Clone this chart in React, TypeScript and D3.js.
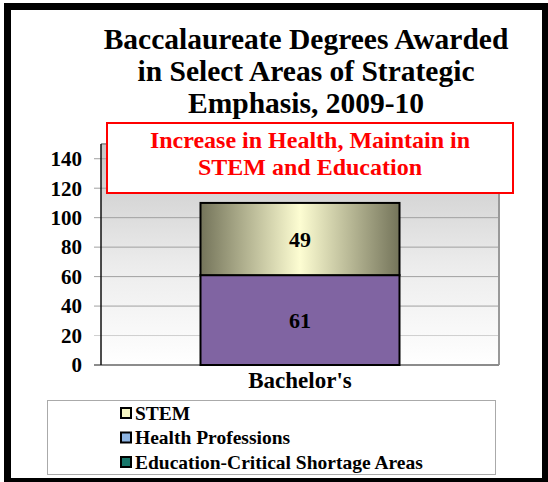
import React, { useEffect, useRef } from 'react';
import * as d3 from 'd3';

const categories = ["Bachelor's"];
const seriesNames = ['Health Professions', 'STEM'];
const healthValues = [61];
const stemValues = [49];
const yTicks = [0, 20, 40, 60, 80, 100, 120, 140];
const titleLines = ['Baccalaureate Degrees Awarded', 'in Select Areas of Strategic', 'Emphasis, 2009-10'];
const noteLines = ['Increase in Health, Maintain in', 'STEM and Education'];
const legendNames = ['STEM', 'Health Professions', 'Education-Critical Shortage Areas'];
const legendColors = ['#f7f7c4', '#8db4e2', '#17766a'];

const W = 548;
const H = 482;
const FONT = '"Liberation Serif", serif';

const App: React.FC = () => {
  const svgRef = useRef<SVGSVGElement>(null);

  useEffect(() => {
    if (!svgRef.current) return;
    const svg = d3.select(svgRef.current);
    svg.selectAll('*').remove();

    const margin = { top: 144, right: 49, bottom: 117, left: 101 };
    const innerW = W - margin.left - margin.right;
    const innerH = H - margin.top - margin.bottom;

    const defs = svg.append('defs');
    const bg = defs.append('linearGradient').attr('id', 'bg').attr('x1', 0).attr('y1', 0).attr('x2', 0).attr('y2', 1);
    bg.append('stop').attr('offset', '0%').attr('stop-color', '#c6c6c6');
    bg.append('stop').attr('offset', '55%').attr('stop-color', '#ececec');
    bg.append('stop').attr('offset', '100%').attr('stop-color', '#ffffff');
    const stem = defs.append('linearGradient').attr('id', 'stem').attr('x1', 0).attr('y1', 0).attr('x2', 1).attr('y2', 0);
    stem.append('stop').attr('offset', '0%').attr('stop-color', '#74745a');
    stem.append('stop').attr('offset', '50%').attr('stop-color', '#fdfdd2');
    stem.append('stop').attr('offset', '100%').attr('stop-color', '#74745a');

    // outer frame
    svg.append('rect')
      .attr('x', 7.5).attr('y', 6.5).attr('width', 538).attr('height', 475)
      .attr('fill', '#fff').attr('stroke', '#000').attr('stroke-width', 7);

    // title
    svg.append('g').selectAll('text').data(titleLines).join('text')
      .attr('x', 306).attr('y', (_, i) => 49 + i * 32)
      .attr('text-anchor', 'middle')
      .style('font-family', FONT).style('font-weight', 'bold').style('font-size', '29.5px')
      .style('fill', '#000')
      .text(d => d);

    const g = svg.append('g').attr('transform', `translate(${margin.left},${margin.top})`);

    const y = d3.scaleLinear().domain([0, 150]).range([innerH, 0]);
    const x = d3.scaleBand().domain(categories).range([0, innerW]).paddingInner(0.5).paddingOuter(0.25);

    g.append('rect').attr('width', innerW).attr('height', innerH).attr('fill', 'url(#bg)');

    // gridlines + ticks
    g.append('g').selectAll('line').data(yTicks.filter(t => t > 0)).join('line')
      .attr('x1', -7).attr('x2', innerW)
      .attr('y1', d => y(d)).attr('y2', d => y(d))
      .attr('stroke', d => (d === 20 ? '#cfcfcf' : '#a0a0a0')).attr('stroke-width', 1);

    // frame top / right
    g.append('path')
      .attr('d', `M0,0H${innerW}V${innerH}`)
      .attr('fill', 'none').attr('stroke', '#999').attr('stroke-width', 2);
    g.append('line').attr('x1', -7).attr('x2', innerW).attr('y1', innerH).attr('y2', innerH)
      .attr('stroke', '#8c8c8c').attr('stroke-width', 2);
    g.append('line').attr('x1', 0).attr('x2', 0).attr('y1', 0).attr('y2', innerH)
      .attr('stroke', '#111').attr('stroke-width', 1.5);

    g.append('g').selectAll('text').data(yTicks).join('text')
      .attr('x', -19).attr('y', d => y(d)).attr('dy', '0.35em')
      .attr('text-anchor', 'end')
      .style('font-family', FONT).style('font-weight', 'bold').style('font-size', '21px')
      .text(d => d);

    // stacked bars
    const stackData = categories.map((c, i) => ({ cat: c, 'Health Professions': healthValues[i], STEM: stemValues[i] }));
    const series = d3.stack<any>().keys(seriesNames)(stackData);
    const fills: Record<string, string> = { 'Health Professions': '#8064a2', STEM: 'url(#stem)' };

    series.forEach(s => {
      const sg = g.append('g');
      sg.selectAll('rect').data(s).join('rect')
        .attr('x', d => x(d.data.cat)!)
        .attr('width', x.bandwidth())
        .attr('y', d => y(d[1]))
        .attr('height', d => y(d[0]) - y(d[1]))
        .attr('fill', fills[s.key])
        .attr('stroke', '#000').attr('stroke-width', 2);
      sg.selectAll('text').data(s).join('text')
        .attr('x', d => x(d.data.cat)! + x.bandwidth() / 2)
        .attr('y', d => (y(d[0]) + y(d[1])) / 2).attr('dy', '0.35em')
        .attr('text-anchor', 'middle')
        .style('font-family', FONT).style('font-weight', 'bold').style('font-size', '22px')
        .text(d => d[1] - d[0]);
    });

    g.append('g').selectAll('text').data(categories).join('text')
      .attr('x', d => x(d)! + x.bandwidth() / 2)
      .attr('y', innerH + 23)
      .attr('text-anchor', 'middle')
      .style('font-family', FONT).style('font-weight', 'bold').style('font-size', '23px')
      .text(d => d);

    // red annotation box
    svg.append('rect')
      .attr('x', 107).attr('y', 123).attr('width', 406).attr('height', 70)
      .attr('fill', '#fff').attr('stroke', '#ff0000').attr('stroke-width', 2);
    svg.append('g').selectAll('text').data(noteLines).join('text')
      .attr('x', 310).attr('y', (_, i) => 148 + i * 27)
      .attr('text-anchor', 'middle')
      .style('font-family', FONT).style('font-weight', 'bold').style('font-size', '24px')
      .style('fill', '#ff0000')
      .text(d => d);

    // legend
    svg.append('rect')
      .attr('x', 47.5).attr('y', 400.5).attr('width', 448).attr('height', 74)
      .attr('fill', '#fff').attr('stroke', '#aaa').attr('stroke-width', 1);
    const lg = svg.append('g').selectAll('g').data(legendNames).join('g')
      .attr('transform', (_, i) => `translate(120,${413 + i * 24.5})`);
    lg.append('rect')
      .attr('x', 1).attr('y', -5).attr('width', 10).attr('height', 10)
      .attr('fill', (_, i) => legendColors[i]).attr('stroke', '#000').attr('stroke-width', 2);
    lg.append('text')
      .attr('x', 15).attr('dy', '0.35em')
      .style('font-family', FONT).style('font-weight', 'bold').style('font-size', '19.5px')
      .text(d => d);
  }, []);

  return (
    <div style={{ position: 'absolute', left: 0, top: 0 }}>
      <svg ref={svgRef} width={W} height={H} />
    </div>
  );
};

export default App;
